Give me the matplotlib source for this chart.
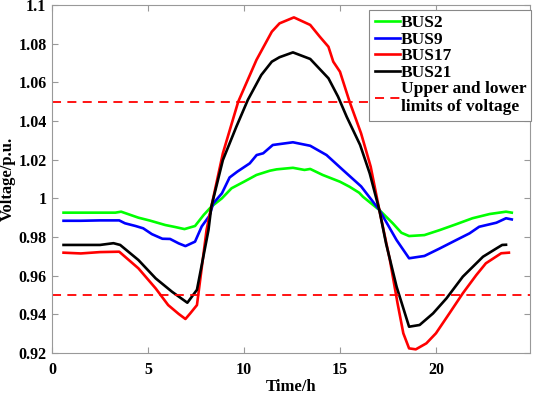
import matplotlib
matplotlib.use("Agg")
import matplotlib.pyplot as plt
from matplotlib.ticker import FuncFormatter

plt.rcParams['font.family'] = ['Liberation Serif', 'DejaVu Serif']
plt.rcParams['font.weight'] = 'bold'

# ---- data ----
t2 = [0.6, 1.5, 2.5, 3.3, 3.6, 4.5, 5.1, 5.9, 6.4, 6.9, 7.45, 7.9, 8.3, 8.85, 9.35, 10.0, 10.65,
      11.35, 11.7, 12.55, 13.15, 13.45, 14.1, 15.0, 15.5, 16.0, 16.2, 17.05, 17.75, 18.2, 18.6,
      19.4, 20.2, 21.05, 21.9, 22.8, 23.65, 23.95]
v2 = [0.9926, 0.9926, 0.9926, 0.9926, 0.9931, 0.9900, 0.9885, 0.9862, 0.9852, 0.9841, 0.9857,
      0.9914, 0.9957, 1.0000, 1.0052, 1.0086, 1.0121, 1.0143, 1.0150, 1.0158, 1.0147, 1.0152,
      1.0121, 1.0086, 1.0060, 1.0029, 1.0008, 0.9940, 0.9871, 0.9822, 0.9805, 0.9810, 0.9836,
      0.9866, 0.9897, 0.9919, 0.9931, 0.9926]

t9 = [0.6, 1.5, 2.5, 3.5, 3.8, 4.35, 4.75, 5.2, 5.75, 6.15, 6.6, 6.95, 7.45, 7.8, 8.2, 8.4, 8.85,
      9.25, 9.65, 10.3, 10.66, 11.0, 11.5, 12.55, 13.45, 14.3, 15.15, 16.1, 17.05, 17.95, 18.6,
      19.4, 20.2, 21.05, 21.75, 22.25, 23.15, 23.65, 23.95]
v9 = [0.9884, 0.9884, 0.9886, 0.9886, 0.9871, 0.9857, 0.9845, 0.9815, 0.9791, 0.9790, 0.9767,
      0.9753, 0.9776, 0.9855, 0.9910, 0.9974, 1.0026, 1.0108, 1.0138, 1.0181, 1.0224, 1.0233,
      1.0276, 1.0290, 1.0272, 1.0224, 1.0147, 1.0062, 0.9940, 0.9784, 0.9690, 0.9702, 0.9741,
      0.9784, 0.9819, 0.9853, 0.9874, 0.9897, 0.9891]

t17 = [0.6, 1.5, 2.5, 3.5, 4.5, 5.4, 6.05, 6.6, 6.95, 7.2, 7.55, 8.05, 8.3, 8.9, 9.7, 10.65,
       11.45, 11.85, 12.6, 13.45, 13.95, 14.4, 14.65, 15.0, 15.5, 16.1, 16.6, 17.05, 17.6, 18.0,
       18.3, 18.6, 18.95, 19.5, 20.0, 20.7, 21.4, 22.1, 22.6, 23.4, 23.8]
v17 = [0.9719, 0.9715, 0.9722, 0.9724, 0.9638, 0.9534, 0.9448, 0.9402, 0.9376, 0.9405, 0.9448,
       0.9836, 0.9957, 1.0233, 1.0500, 1.0716, 1.0862, 1.0905, 1.0936, 1.0897, 1.0836, 1.0784,
       1.0707, 1.0655, 1.0500, 1.0336, 1.0164, 0.9940, 0.9681, 0.9457, 0.9302, 0.9224, 0.9219,
       0.9250, 0.9302, 0.9405, 0.9509, 0.9603, 0.9664, 0.9716, 0.9719]

t21 = [0.6, 1.5, 2.5, 3.2, 3.55, 4.5, 5.4, 6.25, 7.05, 7.55, 8.15, 8.3, 8.9, 9.6, 10.2, 10.9,
       11.45, 11.85, 12.55, 13.45, 14.4, 14.9, 15.35, 16.05, 16.55, 17.05, 17.4, 17.95, 18.6,
       19.15, 19.85, 20.55, 21.4, 22.45, 23.15, 23.45, 23.65]
v21 = [0.9759, 0.9759, 0.9759, 0.9768, 0.9759, 0.9681, 0.9586, 0.9517, 0.9460, 0.9527, 0.9836,
       0.9957, 1.0198, 1.0370, 1.0509, 1.0638, 1.0707, 1.0730, 1.0755, 1.0721, 1.0621, 1.0526,
       1.0422, 1.0276, 1.0129, 0.9940, 0.9767, 0.9543, 0.9336, 0.9345, 0.9405, 0.9483, 0.9595,
       0.9698, 0.9741, 0.9759, 0.9760]

upper_limit = 1.05
lower_limit = 0.95

labels = ["BUS2", "BUS9", "BUS17", "BUS21", "Upper and lower\nlimits of voltage"]
colors = ["#00ff00", "#0000ff", "#ff0000", "#000000"]
xticks = [0, 5, 10, 15, 20]
yticks = [0.92, 0.94, 0.96, 0.98, 1.0, 1.02, 1.04, 1.06, 1.08, 1.1]

# ---- figure ----
fig = plt.figure(figsize=(5.33, 3.95), dpi=100)
ax = fig.add_axes([0.0976, 0.1063, 0.8968, 0.881])

lw = 1.9
ax.plot(t2, v2, color=colors[0], lw=lw, label=labels[0])
ax.plot(t9, v9, color=colors[1], lw=lw, label=labels[1])
ax.plot(t17, v17, color=colors[2], lw=lw, label=labels[2])
ax.plot(t21, v21, color=colors[3], lw=lw, label=labels[3])
ax.axhline(upper_limit, color='#ff0000', lw=1.3, ls=(0, (5, 3.5)), label=labels[4])
ax.axhline(lower_limit, color='#ff0000', lw=1.3, ls=(0, (5, 3.5)))

ax.set_xlim(0, 24.9)
ax.set_ylim(0.92, 1.1)
ax.set_xticks(xticks)
ax.set_yticks(yticks)
ax.yaxis.set_major_formatter(FuncFormatter(lambda v, p: f"{v:g}"))

for s in ax.spines.values():
    s.set_color('#999999')
    s.set_linewidth(0.8)
ax.tick_params(direction='in', top=True, right=True, length=4, width=0.8,
               color='#999999', labelsize=11.5)
ax.tick_params(axis='x', pad=6.5)
ax.tick_params(axis='y', pad=4)
for lab in ax.get_xticklabels() + ax.get_yticklabels():
    lab.set_fontweight('bold')

ax.set_xlabel("Time/h", fontsize=12, fontweight='bold', labelpad=1)
ax.set_ylabel("Voltage/p.u.", fontsize=12, fontweight='bold', labelpad=2)

leg = ax.legend(loc='upper right', bbox_to_anchor=(1.003, 0.986), borderaxespad=0,
                handlelength=1.45, handletextpad=0.05, labelspacing=0.02,
                borderpad=0.3, fancybox=False, framealpha=1, edgecolor='#888888',
                prop={'weight': 'bold', 'size': 12.5})
leg.get_frame().set_linewidth(0.8)

fig.savefig("out.png", dpi=100)
